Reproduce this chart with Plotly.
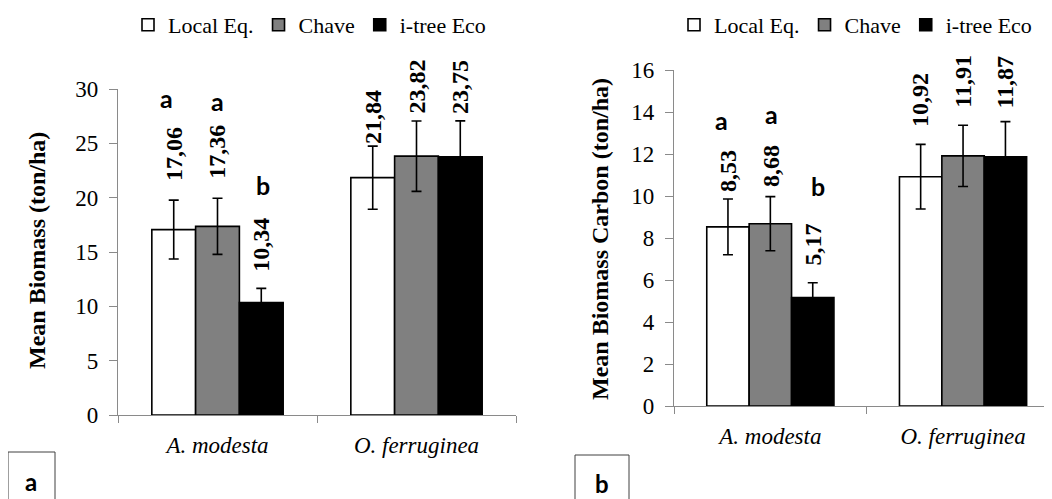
import plotly.graph_objects as go

# ---------------- data ----------------
categories = ["A. modesta", "O. ferruginea"]
series_names = ["Local Eq.", "Chave", "i-tree Eco"]

biomass_local = [17.06, 21.84]
biomass_chave = [17.36, 23.82]
biomass_itree = [10.34, 23.75]
biomass_local_err = [2.71, 2.90]
biomass_chave_err = [2.58, 3.24]
biomass_itree_err = [1.31, 3.32]

carbon_local = [8.53, 10.92]
carbon_chave = [8.68, 11.91]
carbon_itree = [5.17, 11.87]
carbon_local_err = [1.33, 1.54]
carbon_chave_err = [1.29, 1.46]
carbon_itree_err = [0.70, 1.67]

# significance letters for A. modesta (Local, Chave, i-tree)
biomass_letters = ["a", "a", "b"]
carbon_letters = ["a", "a", "b"]

biomass_ticks = [0, 5, 10, 15, 20, 25, 30]
carbon_ticks = [0, 2, 4, 6, 8, 10, 12, 14, 16]

# ---------------- style / layout ----------------
VIEW_W, VIEW_H = 1052, 499
PAGE_OFF = 8                      # default page margin around the plot div
FIG_W, FIG_H = VIEW_W - PAGE_OFF, VIEW_H - PAGE_OFF
SERIF = "Liberation Serif"
SANS = "Lato"
AXIS_GRAY = "#8a8a8a"
fills = ["#ffffff", "#808080", "#000000"]
BARGAP = 0.34
bar_w = (1 - BARGAP) / 3

# label offsets above error-bar tops (px), per (category, series)
biomass_label_gap = [[18, 18, 16], [1, 6, 6]]
carbon_label_gap = [[6, 9, 16], [16, 16, 12]]
# significance letter placement (data units / px shift)
biomass_letter_y = [29.2, 28.9, 21.2]
biomass_letter_dx = [-7, 0, 2]
carbon_letter_y = [13.6, 13.9, 10.5]
carbon_letter_dx = [-6, 1, 5]


def px_x(p):
    return (p - PAGE_OFF) / FIG_W


def px_y(p):
    return (VIEW_H - p) / FIG_H


fig = go.Figure()

panels = [
    dict(vals=[biomass_local, biomass_chave, biomass_itree],
         errs=[biomass_local_err, biomass_chave_err, biomass_itree_err],
         xa="x", ya="y", legend="legend", gaps=biomass_label_gap,
         letters=biomass_letters, ly=biomass_letter_y, ldx=biomass_letter_dx),
    dict(vals=[carbon_local, carbon_chave, carbon_itree],
         errs=[carbon_local_err, carbon_chave_err, carbon_itree_err],
         xa="x2", ya="y2", legend="legend2", gaps=carbon_label_gap,
         letters=carbon_letters, ly=carbon_letter_y, ldx=carbon_letter_dx),
]

annotations = []
for p in panels:
    for j, name in enumerate(series_names):
        fig.add_trace(go.Bar(
            x=categories, y=p["vals"][j], name=name,
            xaxis=p["xa"], yaxis=p["ya"], legend=p["legend"],
            marker=dict(color=fills[j], line=dict(color="black", width=1.6)),
            error_y=dict(type="data", array=p["errs"][j], color="black",
                         thickness=1.6, width=5),
        ))
        for i in range(len(categories)):
            v = p["vals"][j][i]
            e = p["errs"][j][i]
            annotations.append(dict(
                x=i + (j - 1) * bar_w, y=v + e, xref=p["xa"], yref=p["ya"],
                text=f"{v:.2f}".replace(".", ","), textangle=-90,
                showarrow=False, yanchor="bottom", xanchor="center",
                yshift=p["gaps"][i][j], borderpad=0,
                font=dict(family=SERIF, size=24, color="black", weight="bold"),
            ))
        annotations.append(dict(
            x=0 + (j - 1) * bar_w, y=p["ly"][j], xref=p["xa"], yref=p["ya"],
            text=p["letters"][j], showarrow=False, xshift=p["ldx"][j],
            xanchor="center", yanchor="middle",
            font=dict(family=SANS, size=25, color="black", weight="bold"),
        ))

# axis titles
title_font = dict(family=SERIF, size=24, color="black", weight="bold")
annotations.append(dict(x=px_x(37), y=px_y(251), xref="paper", yref="paper",
                        xanchor="center", yanchor="middle",
                        text="Mean Biomass (ton/ha)", textangle=-90, showarrow=False,
                        font=title_font))
annotations.append(dict(x=px_x(600), y=px_y(239), xref="paper", yref="paper",
                        xanchor="center", yanchor="middle",
                        text="Mean Biomass Carbon (ton/ha)", textangle=-90, showarrow=False,
                        font=title_font))
# panel tags
tag_font = dict(family=SANS, size=24, color="black", weight="bold")
annotations.append(dict(x=px_x(31), y=px_y(481), xref="paper", yref="paper",
                        xanchor="center", yanchor="middle",
                        text="a", showarrow=False, font=tag_font))
annotations.append(dict(x=px_x(602), y=px_y(483), xref="paper", yref="paper",
                        xanchor="center", yanchor="middle",
                        text="b", showarrow=False, font=tag_font))

shapes = [
    dict(type="rect", xref="paper", yref="paper", x0=px_x(8), x1=px_x(55),
         y0=-0.05, y1=px_y(452), line=dict(color="#404040", width=1)),
    dict(type="rect", xref="paper", yref="paper", x0=px_x(575), x1=px_x(629),
         y0=-0.05, y1=px_y(455), line=dict(color="#404040", width=1)),
]

xcommon = dict(type="category", tickson="boundaries", ticks="outside", ticklen=7,
               tickcolor=AXIS_GRAY, tickwidth=1.3, showline=True, linecolor=AXIS_GRAY,
               linewidth=1.3, showgrid=False, zeroline=False, ticklabelstandoff=9,
               tickfont=dict(family=SERIF, size=23, color="black", style="italic"))
ycommon = dict(ticks="outside", ticklen=8, tickcolor=AXIS_GRAY, tickwidth=1.3,
               showline=True, linecolor=AXIS_GRAY, linewidth=1.3, showgrid=False,
               zeroline=False, ticklabelstandoff=6,
               tickfont=dict(family=SERIF, size=23, color="black"))

cat_px_right = 192.7
legend_common = dict(orientation="h", xanchor="left", yanchor="middle",
                     font=dict(family=SERIF, size=22, color="black"), itemwidth=30,
                     bgcolor="rgba(0,0,0,0)", tracegroupgap=0, borderwidth=0)
fig.update_layout(
    width=FIG_W, height=FIG_H, margin=dict(l=0, r=0, t=0, b=0, autoexpand=False),
    paper_bgcolor="white", plot_bgcolor="white",
    barmode="group", bargap=BARGAP, bargroupgap=0,
    xaxis=dict(domain=[px_x(118), px_x(516)], range=[-0.5, 1.5], anchor="y", **xcommon),
    yaxis=dict(domain=[px_y(415), px_y(89)], range=[0, 30], tickvals=biomass_ticks,
               anchor="x", **ycommon),
    xaxis2=dict(domain=[px_x(674), 1.0],
                range=[-0.5, -0.5 + (VIEW_W - 674) / cat_px_right],
                anchor="y2", **xcommon),
    yaxis2=dict(domain=[px_y(406), px_y(70)], range=[0, 16], tickvals=carbon_ticks,
                anchor="x2", **ycommon),
    legend=dict(x=px_x(128), y=px_y(25), **legend_common),
    legend2=dict(x=px_x(674), y=px_y(25), **legend_common),
    annotations=annotations, shapes=shapes, showlegend=True,
)

fig.write_html("out.html")
